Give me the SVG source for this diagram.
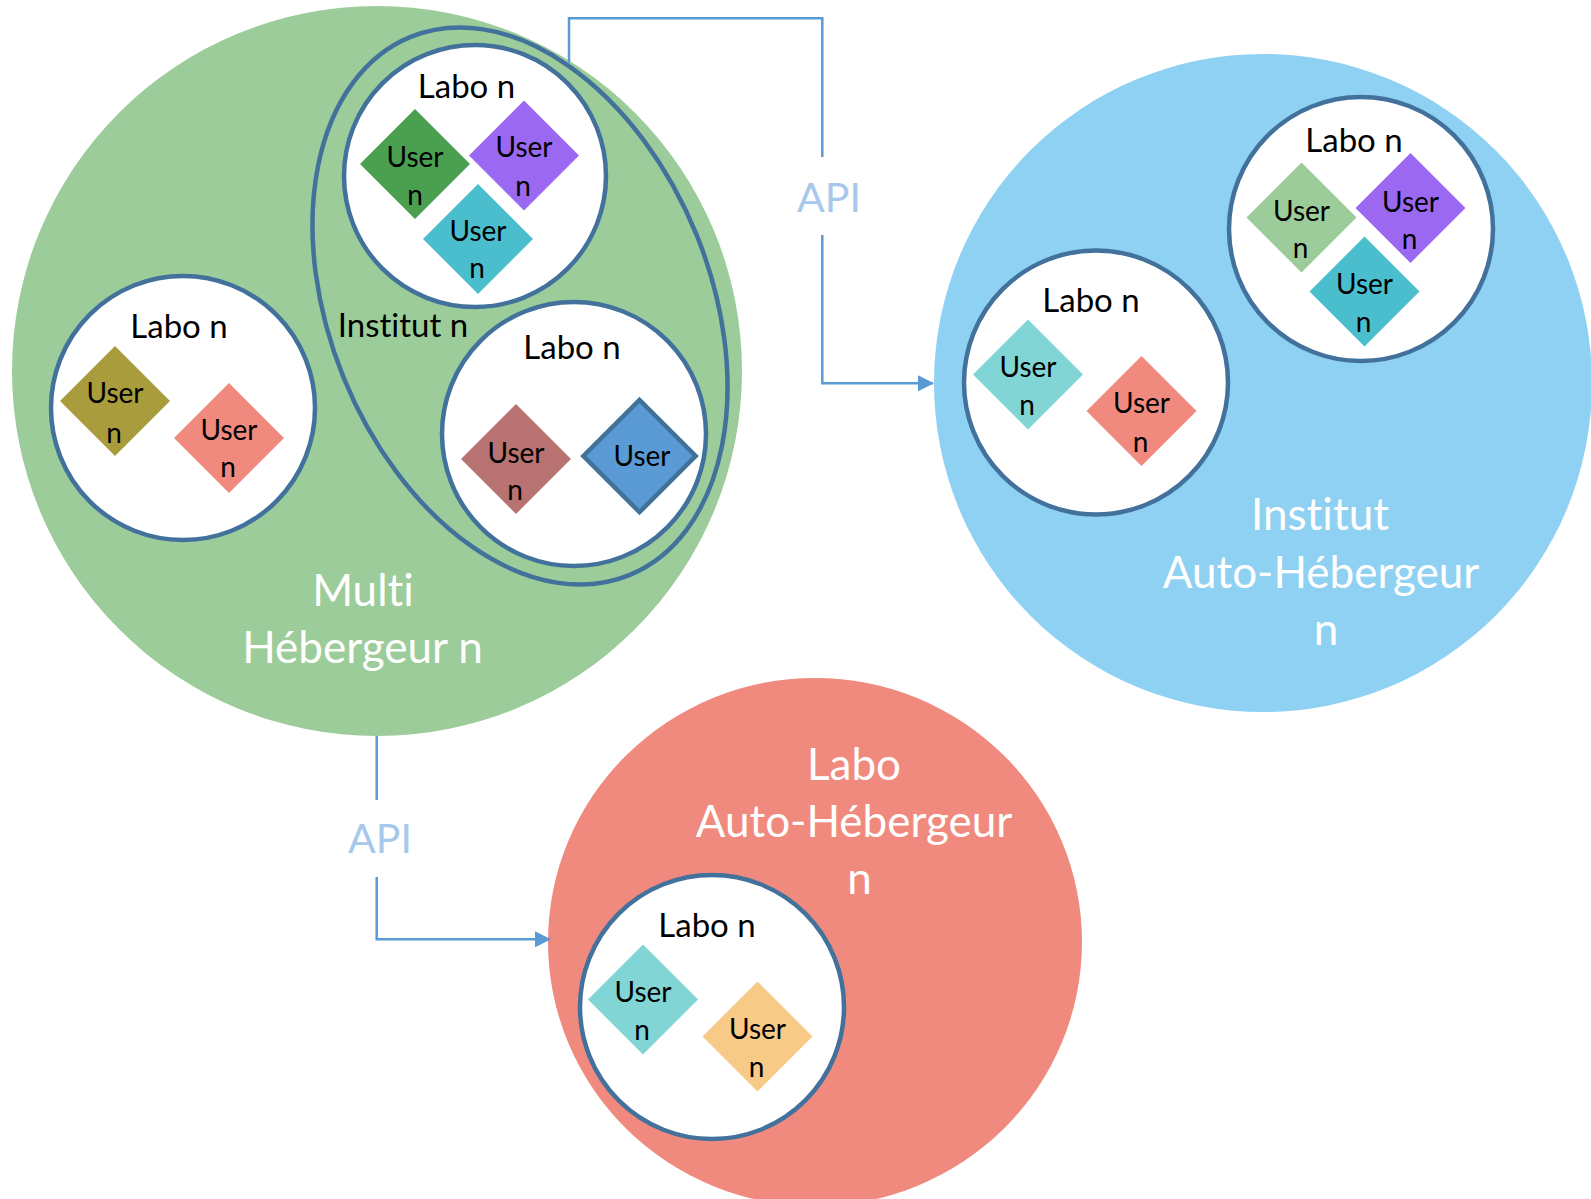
<svg xmlns="http://www.w3.org/2000/svg" xmlns:xlink="http://www.w3.org/1999/xlink" width="1591" height="1199" viewBox="0 0 1591 1199">
<style>
  text { font-family: Lato, Carlito, "Liberation Sans", sans-serif; text-anchor: middle; font-variant-ligatures: none; font-feature-settings: "liga" 0, "clig" 0; }
  .u { font-size: 28px; fill: #000; }
  .lab { font-size: 33px; fill: #000; }
  .big { font-size: 44px; fill: #fff; }
  .api { font-size: 41px; fill: #a6c9eb; }
  .labo { fill: #fff; stroke: #42719c; stroke-width: 4.5; }
  .conn { fill: none; stroke: #5b9bd5; stroke-width: 2.5; }
</style>
<defs>
  <path id="dm" d="M-55,0 L0,-55 L55,0 L0,55 Z"/>
  <marker id="arr" markerUnits="userSpaceOnUse" viewBox="0 0 16 16" markerWidth="16" markerHeight="16" refX="15" refY="8" orient="auto">
    <path d="M0,0 L16,8 L0,16 Z" fill="#5b9bd5"/>
  </marker>
</defs>
<rect width="1591" height="1199" fill="#fff"/>

<g id="multi-hebergeur">
  <circle cx="377" cy="371" r="365" fill="#9ccc9a"/>
  <text class="big" x="363" y="606">Multi</text>
  <text class="big" x="362.5" y="663">Hébergeur n</text>
</g>

<g id="institut-n">
  <ellipse cx="0" cy="0" rx="290.5" ry="190.4" transform="translate(520 306) rotate(67.9)" fill="#9ccc9a" stroke="#42719c" stroke-width="4.5"/>
  <text class="lab" x="403" y="337">Institut n</text>
</g>

<g id="labo-inst-top">
  <circle class="labo" cx="475" cy="176" r="131"/>
  <text class="lab" x="466.5" y="98">Labo n</text>
  <use xlink:href="#dm" x="415" y="164" fill="#4aa050"/>
  <text class="u" x="415" y="167">User</text><text class="u" x="415" y="205">n</text>
  <use xlink:href="#dm" x="524" y="155.5" fill="#9a68f1"/>
  <text class="u" x="524" y="157">User</text><text class="u" x="523" y="196">n</text>
  <use xlink:href="#dm" x="478" y="239" fill="#4bbece"/>
  <text class="u" x="478" y="241">User</text><text class="u" x="477" y="278">n</text>
</g>

<g id="labo-inst-bottom">
  <circle class="labo" cx="574" cy="434" r="132"/>
  <text class="lab" x="572" y="359">Labo n</text>
  <use xlink:href="#dm" x="516" y="459" fill="#b87272"/>
  <text class="u" x="516" y="463">User</text><text class="u" x="515" y="500">n</text>
  <g transform="translate(639.5 456) scale(1.02)"><use xlink:href="#dm" fill="#5b9bd5" stroke="#42719c" stroke-width="4.5"/></g>
  <text class="u" x="642" y="466">User</text>
</g>

<g id="labo-multi-left">
  <circle class="labo" cx="183" cy="408" r="132"/>
  <text class="lab" x="179" y="338">Labo n</text>
  <use xlink:href="#dm" x="115" y="401" fill="#a99c3c"/>
  <text class="u" x="115" y="403">User</text><text class="u" x="114" y="443">n</text>
  <use xlink:href="#dm" x="229" y="438" fill="#f08a7e"/>
  <text class="u" x="229" y="440">User</text><text class="u" x="228" y="477">n</text>
</g>

<g id="institut-auto-hebergeur">
  <circle cx="1263" cy="383" r="329" fill="#8fd1f2"/>
  <text class="big" x="1320" y="530">Institut</text>
  <text class="big" x="1321" y="588">Auto-Hébergeur</text>
  <text class="big" x="1326" y="645">n</text>
</g>

<g id="labo-auto-inst-top">
  <circle class="labo" cx="1361" cy="229" r="132"/>
  <text class="lab" x="1354" y="152">Labo n</text>
  <use xlink:href="#dm" x="1301.5" y="217.5" fill="#9ccc9a"/>
  <text class="u" x="1301.5" y="221">User</text><text class="u" x="1300.5" y="258">n</text>
  <use xlink:href="#dm" x="1410.5" y="208" fill="#9a68f1"/>
  <text class="u" x="1410.5" y="212">User</text><text class="u" x="1409.5" y="249">n</text>
  <use xlink:href="#dm" x="1364.5" y="291.5" fill="#4bbece"/>
  <text class="u" x="1364.5" y="294">User</text><text class="u" x="1363.5" y="332">n</text>
</g>

<g id="labo-auto-inst-left">
  <circle class="labo" cx="1096" cy="382.5" r="132"/>
  <text class="lab" x="1091" y="312">Labo n</text>
  <use xlink:href="#dm" x="1028" y="374.5" fill="#82d5d5"/>
  <text class="u" x="1028" y="377">User</text><text class="u" x="1027" y="415">n</text>
  <use xlink:href="#dm" x="1141.5" y="411" fill="#f08a7e"/>
  <text class="u" x="1141.5" y="413">User</text><text class="u" x="1140.5" y="452">n</text>
</g>

<g id="labo-auto-hebergeur">
  <ellipse cx="815" cy="942" rx="267" ry="264" fill="#f08a7e"/>
  <text class="big" x="854" y="780">Labo</text>
  <text class="big" x="854" y="837">Auto-Hébergeur</text>
  <text class="big" x="859.5" y="894">n</text>
</g>

<g id="labo-auto-inner">
  <circle class="labo" cx="712" cy="1007" r="132"/>
  <text class="lab" x="707" y="937">Labo n</text>
  <use xlink:href="#dm" x="643" y="999.5" fill="#82d5d5"/>
  <text class="u" x="643" y="1002">User</text><text class="u" x="642" y="1040">n</text>
  <use xlink:href="#dm" x="757.5" y="1036.4" fill="#f8ca88"/>
  <text class="u" x="757.5" y="1038.5">User</text><text class="u" x="756.5" y="1076.5">n</text>
</g>

<g id="connectors">
  <path class="conn" d="M569,63 V18.3 H822.3 V157"/>
  <path class="conn" d="M822.3,235 V383.3 H933" marker-end="url(#arr)"/>
  <text class="api" x="829" y="212">API</text>
  <path class="conn" d="M376.7,736 V800"/>
  <path class="conn" d="M376.7,877 V939.3 H550" marker-end="url(#arr)"/>
  <text class="api" x="380" y="853">API</text>
</g>
</svg>
